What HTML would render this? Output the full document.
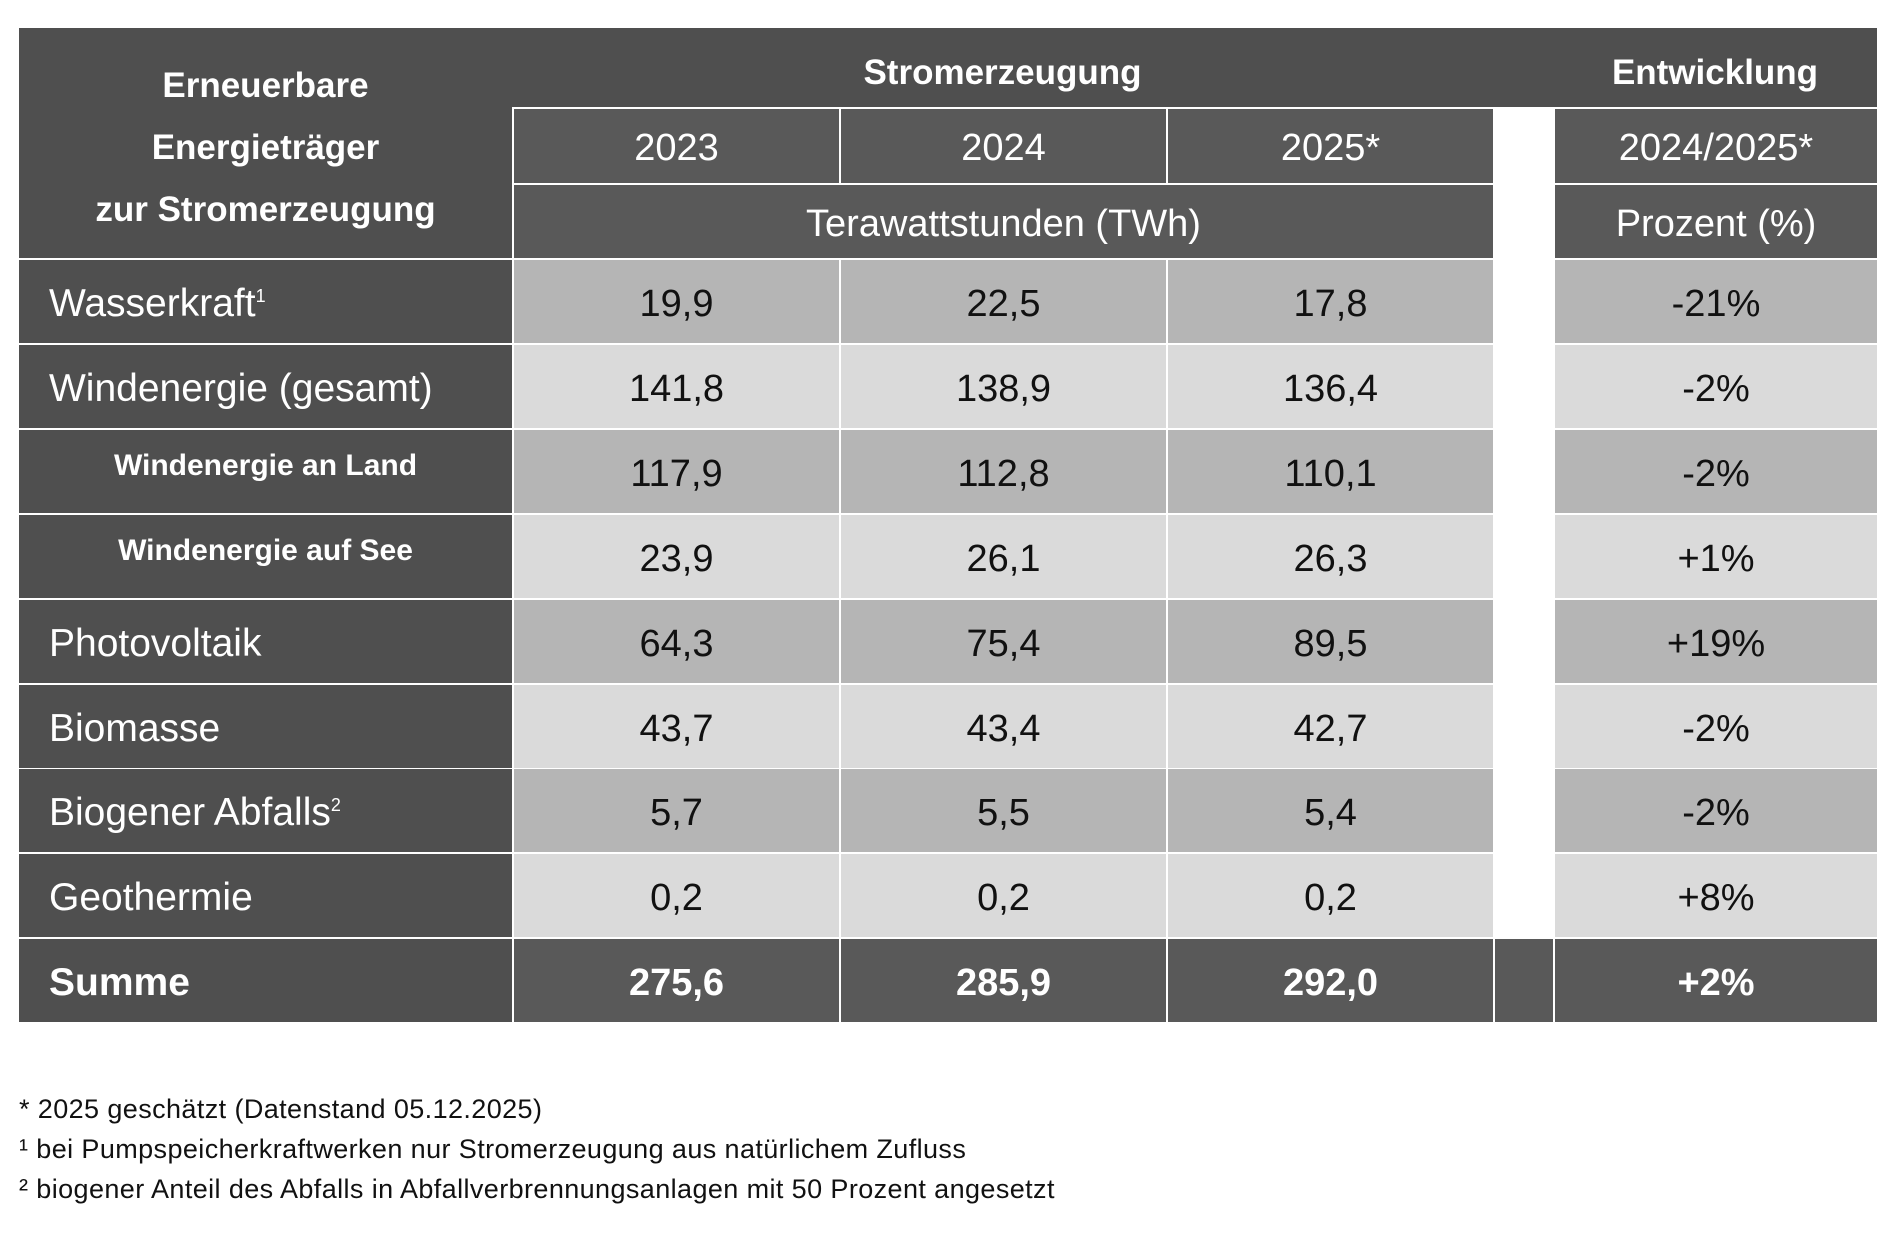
<!DOCTYPE html>
<html><head><meta charset="utf-8"><style>
body{margin:0;width:1901px;height:1235px;background:#fff;position:relative;overflow:hidden;font-family:"Liberation Sans",sans-serif}
.c{position:absolute;display:flex;align-items:center;justify-content:center;box-sizing:border-box;font-size:38px;color:#111;padding-top:5px;text-align:center}
.d{background:#4f4f4f;color:#fff}
.h{background:#595959;color:#fff}
.a{background:#b5b5b5}
.b{background:#dadada}
.l{justify-content:flex-start;padding-left:30px;font-size:39px}
.bo{font-weight:bold}
sup{font-size:18px;vertical-align:top;position:relative;top:-8px}
.f{position:absolute;left:19px;font-size:27px;letter-spacing:0.4px;color:#111}
</style></head><body>
<div class="c d" style="left:19px;top:28px;width:1858px;height:79px"></div>
<div class="c d bo" style="left:19px;top:28px;width:493px;height:230px;font-size:35px;line-height:62px;padding-top:10px">Erneuerbare<br>Energieträger<br>zur Stromerzeugung</div>
<div class="c bo" style="left:512px;top:34px;width:981px;height:73px;color:#fff;font-size:35px">Stromerzeugung</div>
<div class="c bo" style="left:1553px;top:34px;width:324px;height:73px;color:#fff;font-size:35px">Entwicklung</div>
<div class="c h" style="left:514px;top:109px;width:325px;height:74px">2023</div>
<div class="c h" style="left:841px;top:109px;width:325px;height:74px">2024</div>
<div class="c h" style="left:1168px;top:109px;width:325px;height:74px">2025*</div>
<div class="c h" style="left:1555px;top:109px;width:322px;height:74px">2024/2025*</div>
<div class="c h" style="left:514px;top:185px;width:979px;height:73px">Terawattstunden (TWh)</div>
<div class="c h" style="left:1555px;top:185px;width:322px;height:73px">Prozent (%)</div>
<div id="rows"></div>
<script>
var R=[["Wasserkraft<sup>1</sup>","19,9","22,5","17,8","-21%",0],
["Windenergie (gesamt)","141,8","138,9","136,4","-2%",0],
["Windenergie an Land","117,9","112,8","110,1","-2%",1],
["Windenergie auf See","23,9","26,1","26,3","+1%",1],
["Photovoltaik","64,3","75,4","89,5","+19%",0],
["Biomasse","43,7","43,4","42,7","-2%",0],
["Biogener Abfalls<sup>2</sup>","5,7","5,5","5,4","-2%",0],
["Geothermie","0,2","0,2","0,2","+8%",0],
["Summe","275,6","285,9","292,0","+2%",2]];
var h="";
for(var i=0;i<R.length;i++){var r=R[i],t=Math.round(260+i*84.9),H=83,cl=(i==8)?"h bo":(i%2==0?"a":"b");
var lab=r[5]==1?'<div class="c d bo" style="left:19px;top:'+t+'px;width:493px;height:'+H+'px;font-size:30px;padding-bottom:12px;padding-top:0">'+r[0]+'</div>':
'<div class="c d l'+(r[5]==2?' bo':'')+'" style="left:19px;top:'+t+'px;width:493px;height:'+H+'px">'+r[0]+'</div>';
h+=lab;
h+='<div class="c '+cl+'" style="left:514px;top:'+t+'px;width:325px;height:'+H+'px">'+r[1]+'</div>';
h+='<div class="c '+cl+'" style="left:841px;top:'+t+'px;width:325px;height:'+H+'px">'+r[2]+'</div>';
h+='<div class="c '+cl+'" style="left:1168px;top:'+t+'px;width:325px;height:'+H+'px">'+r[3]+'</div>';
if(i==8)h+='<div class="c h" style="left:1495px;top:'+t+'px;width:58px;height:'+H+'px"></div>';
h+='<div class="c '+cl+'" style="left:1555px;top:'+t+'px;width:322px;height:'+H+'px">'+r[4]+'</div>';}
document.getElementById("rows").innerHTML=h;
</script>
<div class="f" style="top:1094px">* 2025 geschätzt (Datenstand 05.12.2025)</div>
<div class="f" style="top:1134px">¹ bei Pumpspeicherkraftwerken nur Stromerzeugung aus natürlichem Zufluss</div>
<div class="f" style="top:1174px">² biogener Anteil des Abfalls in Abfallverbrennungsanlagen mit 50 Prozent angesetzt</div>
</body></html>
